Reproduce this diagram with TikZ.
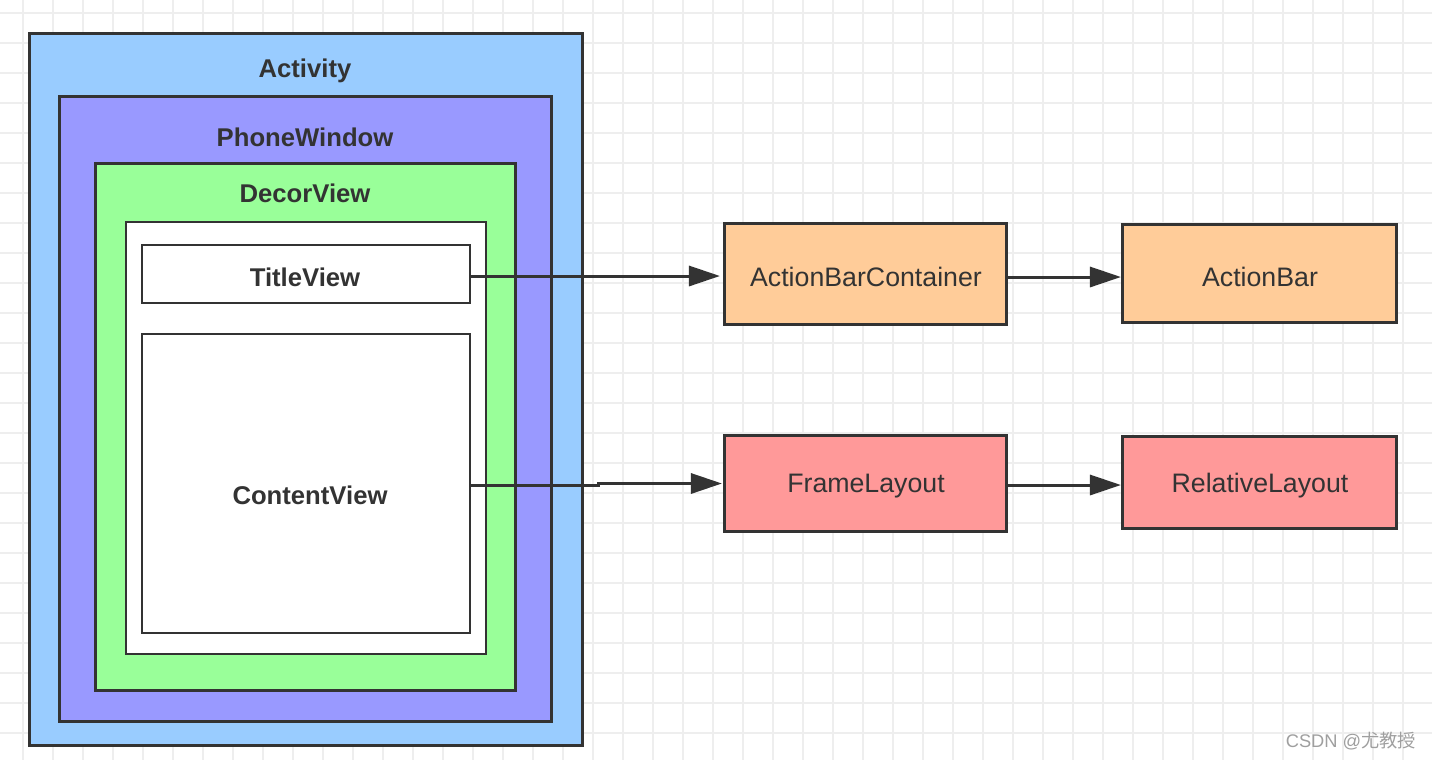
\documentclass[tikz,border=0pt]{standalone}
\usepackage{fontspec}
\setmainfont{Liberation Sans}
\newfontfamily\cjkfont{Noto Sans CJK SC}
\usetikzlibrary{arrows.meta}
\definecolor{gridc}{HTML}{EEEEEE}
\definecolor{linec}{HTML}{333333}
\definecolor{actc}{HTML}{99CCFF}
\definecolor{phonec}{HTML}{9999FF}
\definecolor{decorc}{HTML}{99FF99}
\definecolor{orangec}{HTML}{FFCC99}
\definecolor{redc}{HTML}{FF9999}
\tikzset{
  gridline/.style={draw=gridc, line width=0.4pt},
  layer/.style={draw=linec, line width=0.85pt, rectangle, inner sep=0pt, outer sep=0pt},
  inbox/.style={draw=linec, line width=0.75pt, rectangle, inner sep=0pt, outer sep=0pt, fill=white},
  rbox/.style={draw=linec, line width=0.85pt, rectangle, inner sep=0pt, outer sep=0pt},
  rtext/.style={text=linec, font=\fontsize{7.6}{9}\selectfont, inner sep=0pt},
  title/.style={text=linec, font=\fontsize{7.3}{9}\selectfont\bfseries, inner sep=0pt},
  arr/.style={draw=linec, line width=0.85pt, -{Triangle[length=8.8pt,width=5.7pt]}},
}
\begin{document}
\begin{tikzpicture}[x=0.01cm, y=-0.01cm]
\useasboundingbox (0,0) rectangle (1432,760);
\fill[white] (0,0) rectangle (1432,760);
\foreach \x in {23,53,...,1433} \draw[gridline] (\x,0) -- (\x,760);
\foreach \y in {13,43,...,760} \draw[gridline] (0,\y) -- (1432,\y);

\node[layer, fill=actc, minimum width=5.52cm, minimum height=7.11cm] (activity) at (306,389.5) {};
\node[layer, fill=phonec, minimum width=4.91cm, minimum height=6.24cm] (phone) at (305.5,409) {};
\node[layer, fill=decorc, minimum width=4.19cm, minimum height=5.26cm] (decor) at (305.5,427) {};
\node[inbox, minimum width=3.60cm, minimum height=4.32cm] (inner) at (306,438) {};
\node[inbox, minimum width=3.28cm, minimum height=0.58cm] (titleview) at (306,274) {};
\node[inbox, minimum width=3.28cm, minimum height=2.99cm] (content) at (306,483.5) {};

\node[title] (tact) at (305,71) {Activity};
\node[title] (tphone) at (305,137) {PhoneWindow};
\node[title] (tdecor) at (305,193) {DecorView};
\node[title] (ttitle) at (305,277) {TitleView};
\node[title] (tcontent) at (310,495) {ContentView};

\node[rbox, fill=orangec, minimum width=2.81cm, minimum height=1.00cm] (abc) at (865.5,274) {};
\node[rbox, fill=orangec, minimum width=2.73cm, minimum height=0.97cm] (ab) at (1259.5,273.5) {};
\node[rbox, fill=redc, minimum width=2.81cm, minimum height=0.95cm] (fl) at (865.5,483.5) {};
\node[rbox, fill=redc, minimum width=2.73cm, minimum height=0.91cm] (rl) at (1259.5,482.5) {};
\node[rtext] (tabc) at (866,277) {ActionBarContainer};
\node[rtext] (tab) at (1260,277) {ActionBar};
\node[rtext] (tfl) at (866,486) {FrameLayout};
\node[rtext] (trl) at (1260,486) {RelativeLayout};

\draw[arr] ([yshift=-0.02cm]titleview.east) -- ([yshift=-0.02cm,xshift=-0.05cm]abc.west);
\draw[arr] ([yshift=-0.02cm]content.east) -- ++(128,0) |- ([xshift=-0.03cm]fl.west);
\draw[arr] ([yshift=-0.03cm]abc.east) -- ([yshift=-0.03cm,xshift=-0.02cm]abc.east -| ab.west);
\draw[arr] ([yshift=-0.015cm]fl.east) -- ([yshift=-0.015cm,xshift=-0.02cm]fl.east -| rl.west);

\node[text=gray!75, font=\fontsize{5.2}{6}\selectfont, inner sep=0pt] (wm) at (1351,741) {CSDN @{\cjkfont 尤教授}};
\end{tikzpicture}
\end{document}
